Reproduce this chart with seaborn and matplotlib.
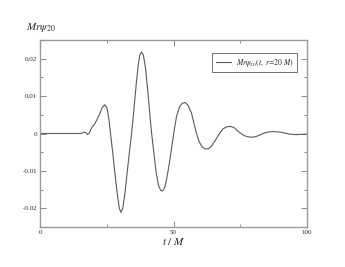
import seaborn as sns
import matplotlib.pyplot as plt
from matplotlib.ticker import MultipleLocator

# valeurs
t = [0, 5, 10, 15, 15.8, 16.5, 17.2, 17.8, 18.5, 19.3, 20.3, 21.2, 22.2, 23.2,
     24.2, 25.1, 25.8, 26.4, 27.2, 28.1, 29.0, 29.7, 30.3, 31.0, 31.8, 32.7,
     33.6, 34.3, 35.1, 36.0, 36.8, 37.4, 38.0, 38.7, 39.5, 40.4, 41.2, 41.8,
     42.6, 43.5, 44.4, 45.2, 45.9, 46.7, 47.6, 48.6, 49.5, 50.2, 51.1, 52.2,
     53.3, 54.3, 55.4, 56.7, 57.8, 58.6, 59.6, 60.7, 61.8, 63.0, 64.2, 65.5,
     67.2, 68.5, 69.9, 71.2, 72.6, 74.0, 75.3, 76.6, 78.0, 79.4, 80.9, 82.3,
     83.6, 85.3, 87.5, 89.8, 91.8, 93.8, 96.0, 98.0, 100]
psi = [0, 0, 0, 0, 0.0001, 0.0004, 0.0002, -0.0003, 0.0002, 0.0015, 0.0024,
       0.0035, 0.005, 0.0068, 0.0077, 0.0068, 0.0038, 0.0, -0.005, -0.011,
       -0.0165, -0.0200, -0.0211, -0.0200, -0.0160, -0.0100, -0.0042, 0.0,
       0.006, 0.013, 0.0185, 0.0210, 0.0218, 0.0210, 0.0175, 0.011, 0.0045,
       0.0, -0.005, -0.0105, -0.0140, -0.0152, -0.0154, -0.0145, -0.0115,
       -0.0072, -0.0028, 0.0006, 0.0045, 0.0071, 0.0081, 0.0083, 0.0076,
       0.0055, 0.0023, 0.0, -0.0022, -0.0036, -0.0041, -0.0041, -0.0034,
       -0.002, 0.0, 0.0012, 0.0018, 0.0019, 0.0016, 0.0007, 0.0, -0.0006,
       -0.0009, -0.0010, -0.0008, -0.0004, 0.0, 0.0004, 0.0005, 0.0004,
       0.0001, -0.0002, -0.0003, -0.0002, -0.0002]

sns.set_style("ticks")
plt.rcParams['font.family'] = ['Liberation Serif', 'DejaVu Serif']
plt.rcParams['mathtext.fontset'] = 'stix'

fig = plt.figure(figsize=(3.45, 2.67), dpi=100)
ax = fig.add_axes([0.116, 0.150, 0.774, 0.700])

sns.lineplot(x=t, y=psi, ax=ax, color='#5a5a5a', lw=0.8,
             label=r'$Mr\psi_{20}(t,\ r\!=\!20\ M)$')

ax.set_xlim(0, 100)
ax.set_ylim(-0.025, 0.025)
ax.xaxis.set_minor_locator(MultipleLocator(25))
ax.yaxis.set_minor_locator(MultipleLocator(0.005))
ax.set_yticks([-0.02, -0.01, 0, 0.01, 0.02])
ax.set_yticklabels(['-0.02', '-0.01', '0', '0.01', '0.02'])
ax.set_xticks([0, 50, 100])
ax.set_xticklabels(['0', '50', '100'])
ax.tick_params(which='both', direction='in', top=True, right=True,
               color='#777777', labelsize=5, pad=2)
ax.tick_params(which='major', length=4, width=0.6)
ax.tick_params(which='minor', length=2.5, width=0.6)
for s in ax.spines.values():
    s.set_color('#999999')
    s.set_linewidth(1)

ax.set_xlabel(r'$t\ /\ M$', fontsize=8, labelpad=1)
fig.text(0.075, 0.872, r'$Mr\psi_{20}$', fontsize=8, ha='left', va='bottom')

leg = ax.legend(loc='upper right', bbox_to_anchor=(0.962, 0.93), fontsize=5.5,
                frameon=True, fancybox=False, handlelength=2.0,
                borderpad=0.45, handletextpad=0.6, borderaxespad=0)
leg.get_frame().set_edgecolor('#333333')
leg.get_frame().set_linewidth(0.6)

fig.savefig('out.png', dpi=100)
